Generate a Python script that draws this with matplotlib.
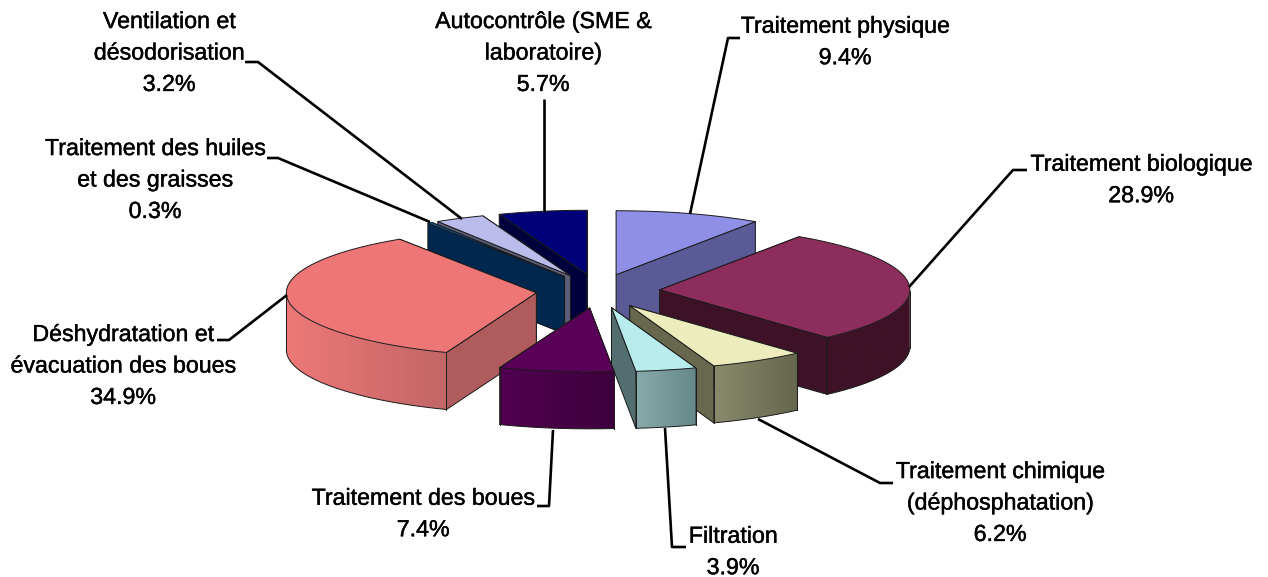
import numpy as np
import matplotlib
matplotlib.use('Agg')
import matplotlib.pyplot as plt
import matplotlib.patheffects as pe
from matplotlib.patches import Polygon

plt.rcParams['font.family'] = ['Liberation Sans', 'DejaVu Sans']

# Datos del grafico
categories = ['Traitement physique', 'Traitement biologique',
              'Traitement chimique\n(déphosphatation)', 'Filtration',
              'Traitement des boues', 'Déshydratation et\névacuation des boues',
              'Traitement des huiles\net des graisses', 'Ventilation et\ndésodorisation',
              'Autocontrôle (SME &\nlaboratoire)']
values = [9.4, 28.9, 6.2, 3.9, 7.4, 34.9, 0.3, 3.2, 5.7]

# top, radial wall, arc wall left, arc wall right
top_colors = ['#8f8fe8', '#8c2d5c', '#ececbc', '#b8ecec', '#5a0058',
              '#ee7676', '#0a62a8', '#bcbcec', '#000078']
side_colors = ['#5a5a96', '#3e1226', '#68684e', '#526e6e', '#4e004c',
               '#b05c5c', '#00284e', '#5e5e78', '#00003c']
arc_left = ['#5a5a96', '#3e1226', '#8a8a6c', '#88aaaa', '#500050',
            '#ee7878', '#00284e', '#5e5e78', '#00003c']
arc_right = ['#5a5a96', '#3e1226', '#66664e', '#668888', '#3e003c',
             '#c26666', '#00284e', '#5e5e78', '#00003c']

# Posicion de las etiquetas y lineas guia (px)
label_pos = [(845, 42), (1141, 180), (1000, 503), (733, 552), (423, 514),
             (123, 366), (155, 180), (169, 53), (543, 53)]
leaders = [[(690, 214), (728, 38), (740, 38)],
           [(909, 287), (1013, 170), (1027, 170)],
           [(758, 419), (880, 483), (893, 483)],
           [(665, 428), (672, 547), (686, 547)],
           [(553, 430), (549, 506), (537, 506)],
           [(287, 295), (229, 340), (217, 340)],
           [(430, 222), (278, 158), (267, 158)],
           [(462, 219), (258, 62), (245, 62)],
           [(544, 212), (544, 99)]]

cx, cy = 598, 291
rx, ry = 250, 64
depth = 57
explode_x, explode_y = 62, 17


def blend(c1, c2, n):
    a = np.array(matplotlib.colors.to_rgb(c1))
    b = np.array(matplotlib.colors.to_rgb(c2))
    return a + (b - a) * np.linspace(0, 1, n)[:, None]


fig = plt.figure(figsize=(12.68, 5.77), dpi=100)
ax = fig.add_axes([0, 0, 1, 1])
ax.axis('off')

edges = np.cumsum([0] + values) / sum(values) * 2 * np.pi

# pintar de atras hacia delante
mids = (edges[:-1] + edges[1:]) / 2
order = np.argsort(-np.cos(mids))
z = 2
for i in order:
    th0, th1 = edges[i], edges[i + 1]
    mid = mids[i]
    ax0 = cx + explode_x * np.sin(mid)
    ay0 = cy - explode_y * np.cos(mid)
    t = np.linspace(th0, th1, max(4, int((th1 - th0) * 60)))
    xs = ax0 + rx * np.sin(t)
    ys = ay0 - ry * np.cos(t)

    # paredes radiales, primero la de atras
    ends = sorted([0, len(t) - 1], key=lambda k: ys[k])
    for k in ends:
        quad = [(ax0, ay0), (xs[k], ys[k]), (xs[k], ys[k] + depth), (ax0, ay0 + depth)]
        ax.add_patch(Polygon(quad, closed=True, fc=side_colors[i], ec='#1a1a1a', lw=0.7, zorder=z))
        z += 1

    # pared exterior con degradado, solo la parte delantera
    front = np.cos(t) <= 0
    if front.any():
        fx, fy = xs[front], ys[front]
        outline = list(zip(fx, fy)) + list(zip(fx[::-1], fy[::-1] + depth))
        wall = Polygon(outline, closed=True, fc='none', ec='none', transform=ax.transData)
        ax.add_patch(wall)
        grad = blend(arc_left[i], arc_right[i], 64)[None, :, :]
        im = ax.imshow(grad, extent=(fx.min(), fx.max(), fy.max() + depth, fy.min()),
                       aspect='auto', interpolation='bilinear', zorder=z)
        im.set_clip_path(wall)
        z += 1
        ax.plot(fx, fy + depth, color='#1a1a1a', lw=0.7, zorder=z)
        for xv, yv in ((fx[0], fy[0]), (fx[-1], fy[-1])):
            ax.plot([xv, xv], [yv, yv + depth], color='#1a1a1a', lw=0.7, zorder=z)
        z += 1

    # cara superior
    top = [(ax0, ay0)] + list(zip(xs, ys))
    ax.add_patch(Polygon(top, closed=True, fc=top_colors[i], ec='#1a1a1a', lw=0.7,
                         joinstyle='round', zorder=z))
    z += 1

# lineas guia
for line in leaders:
    px, py = zip(*line)
    ax.plot(px, py, color='black', lw=1.9, zorder=z, solid_capstyle='butt')

# etiquetas
for name, val, pos in zip(categories, values, label_pos):
    ax.text(pos[0], pos[1], f'{name}\n{val:.1f}%', ha='center', va='center', fontsize=16.7,
            linespacing=1.47, color='black', zorder=z + 1,
            path_effects=[pe.withStroke(linewidth=0.3, foreground='black')])

ax.set_xlim(0, 1268)
ax.set_ylim(577, 0)
fig.savefig('out.png', dpi=100)
